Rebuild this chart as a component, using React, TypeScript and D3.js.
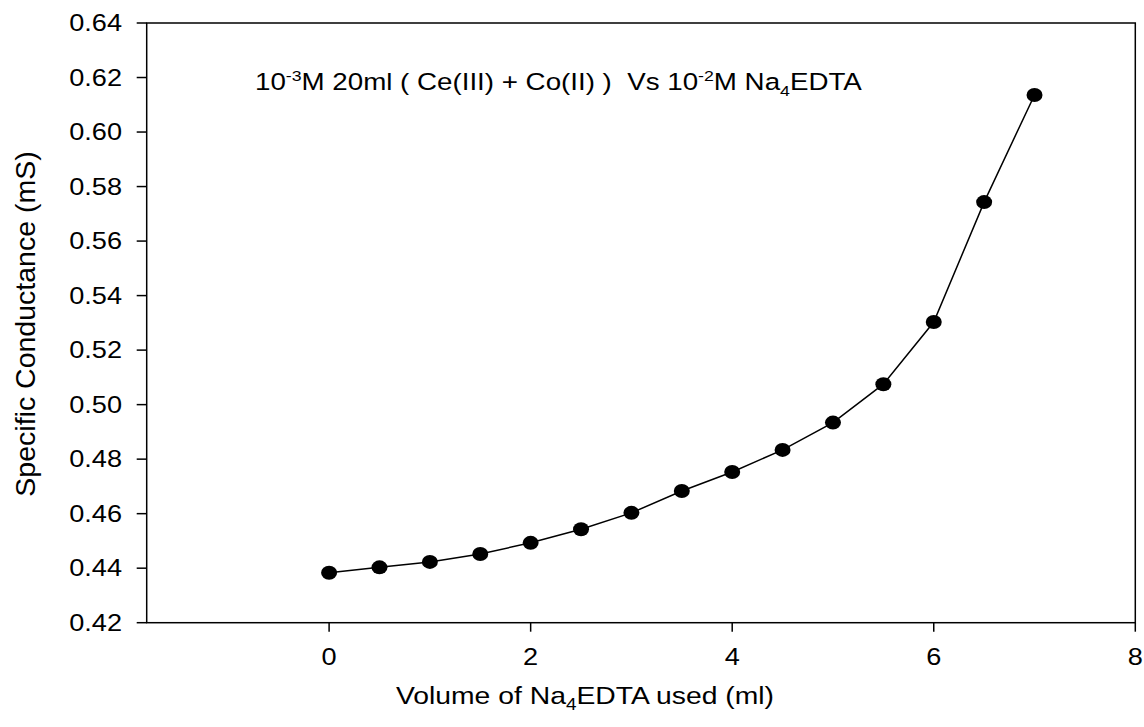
import React from 'react';
import * as d3 from 'd3';

// Na4EDTA volume (ml) vs specific conductance (mS)
const volume = [0, 0.5, 1, 1.5, 2, 2.5, 3, 3.5, 4, 4.5, 5, 5.5, 6, 6.5, 7];
const conductance = [0.4383, 0.4403, 0.4423, 0.4452, 0.4493, 0.4543, 0.4603, 0.4683, 0.4753, 0.4834, 0.4934, 0.5075, 0.5303, 0.5743, 0.6136];
const xTicks = [0, 2, 4, 6, 8];
const yTicks = [0.42, 0.44, 0.46, 0.48, 0.50, 0.52, 0.54, 0.56, 0.58, 0.60, 0.62, 0.64];

const W = 1144, H = 727;
const left = 146.7, right = 1135.3, top = 23, bottom = 622.7;
const SX = 1.18; // the original picture is stretched sideways
const font = '"Liberation Sans", Arial, sans-serif';

const App = () => {
    const x = d3.scaleLinear().domain([-1.81, 8]).range([left, right]);
    const y = d3.scaleLinear().domain([0.42, 0.64]).range([bottom, top]);

    const pts = volume.map((v, i) => [v, conductance[i]] as [number, number]);
    const line = d3.line<[number, number]>()
        .x(d => x(d[0]))
        .y(d => y(d[1]));

    return (
        <svg width={W} height={H} style={{ position: 'absolute', left: 0, top: 0, background: '#fff' }} fontFamily={font}>
            {/* frame */}
            <rect x={left} y={top} width={right - left} height={bottom - top} fill="none" stroke="#000" strokeWidth={1.5} />

            {/* y axis */}
            {yTicks.map(t => (
                <g key={'y' + t}>
                    <line x1={left - 10} x2={left} y1={y(t)} y2={y(t)} stroke="#000" strokeWidth={1.5} />
                    <text transform={`translate(${122},${y(t) + 8}) scale(${SX},1)`} fontSize={23} textAnchor="end">{t.toFixed(2)}</text>
                </g>
            ))}

            {/* x axis */}
            {xTicks.map(t => (
                <g key={'x' + t}>
                    <line x1={x(t)} x2={x(t)} y1={bottom} y2={bottom + 9} stroke="#000" strokeWidth={1.5} />
                    <text transform={`translate(${x(t)},${665}) scale(${SX},1)`} fontSize={23} textAnchor="middle">{t}</text>
                </g>
            ))}

            {/* axis titles */}
            <text transform={`translate(${585},${704}) scale(${SX},1)`} fontSize={24} textAnchor="middle">
                Volume of Na<tspan fontSize={16} dy={6}>4</tspan><tspan dy={-6}>EDTA used (ml)</tspan>
            </text>
            <text transform={`translate(${35},${324}) rotate(-90)`} fontSize={28.5} textAnchor="middle">
                Specific Conductance (mS)
            </text>

            {/* annotation */}
            <text transform={`translate(${255},${90}) scale(${SX},1)`} fontSize={23.5} style={{ whiteSpace: 'pre' }}>
                10<tspan fontSize={15} dy={-9}>-3</tspan><tspan dy={9}>{'M 20ml ( Ce(III) + Co(II) )  Vs 10'}</tspan><tspan fontSize={15} dy={-9}>-2</tspan><tspan dy={9}>M Na</tspan><tspan fontSize={15} dy={6}>4</tspan><tspan dy={-6}>EDTA</tspan>
            </text>

            {/* data */}
            <path d={line(pts) || ''} fill="none" stroke="#000" strokeWidth={1.5} />
            {pts.map((d, i) => (
                <ellipse key={i} cx={x(d[0])} cy={y(d[1])} rx={8} ry={7} fill="#000" />
            ))}
        </svg>
    );
};

export default App;
